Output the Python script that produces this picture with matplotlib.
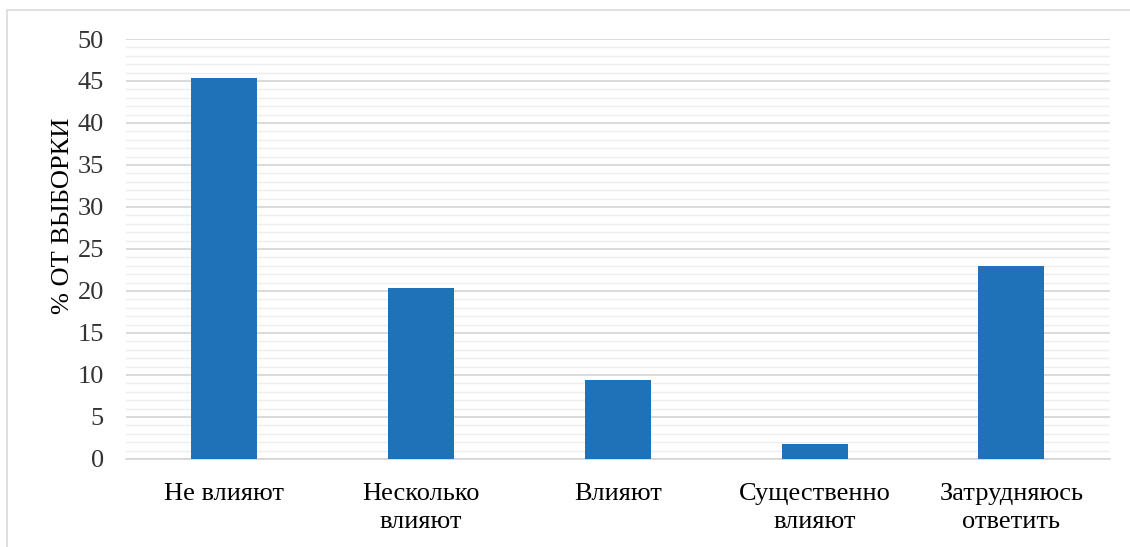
import numpy as np
import matplotlib.pyplot as plt
from matplotlib.patches import Rectangle
from matplotlib.ticker import MultipleLocator

# data
categories = ['Не влияют', 'Несколько\nвлияют', 'Влияют', 'Существенно\nвлияют', 'Затрудняюсь\nответить']
values = [45.4, 20.4, 9.4, 1.8, 23.0]
y_ticks = [0, 5, 10, 15, 20, 25, 30, 35, 40, 45, 50]

plt.rcParams['font.family'] = ['Liberation Serif', 'DejaVu Serif']

fig = plt.figure(figsize=(11.3, 5.47), dpi=100)
ax = fig.add_axes([0.1115, 0.1609, 0.8705, 0.7678])

# outer chart border (partly cropped in the reference)
fig.patches.append(Rectangle((7 / 1130, -0.1), 1.2, 1 - 10 / 547 + 0.1,
                             transform=fig.transFigure, fill=False,
                             edgecolor='#d9d9d9', linewidth=1.2))

x = np.arange(len(categories))
ax.bar(x, values, width=0.335, color='#1f71b8', zorder=3)

ax.set_xlim(-0.5, len(categories) - 0.5)
ax.set_ylim(0, 50)
ax.set_yticks(y_ticks)
ax.yaxis.set_minor_locator(MultipleLocator(1))
ax.set_xticks(x)
ax.set_xticklabels(categories, fontsize=19, linespacing=1.35)

ax.grid(axis='y', which='major', color='#d4d4d4', linewidth=1.2, zorder=0)
ax.grid(axis='y', which='minor', color='#eeeeee', linewidth=1.0, zorder=0)

ax.tick_params(axis='both', which='both', length=0)
ax.tick_params(axis='y', labelsize=19, pad=16, labelcolor='#333333')
ax.tick_params(axis='x', pad=17)

for side in ['top', 'right', 'left']:
    ax.spines[side].set_visible(False)
ax.spines['bottom'].set_color('#d4d4d4')
ax.spines['bottom'].set_linewidth(1.2)

ax.set_ylabel('% ОТ ВЫБОРКИ', fontsize=19)
ax.yaxis.set_label_coords(-0.053, 0.58)

fig.savefig('out.png', dpi=100)
